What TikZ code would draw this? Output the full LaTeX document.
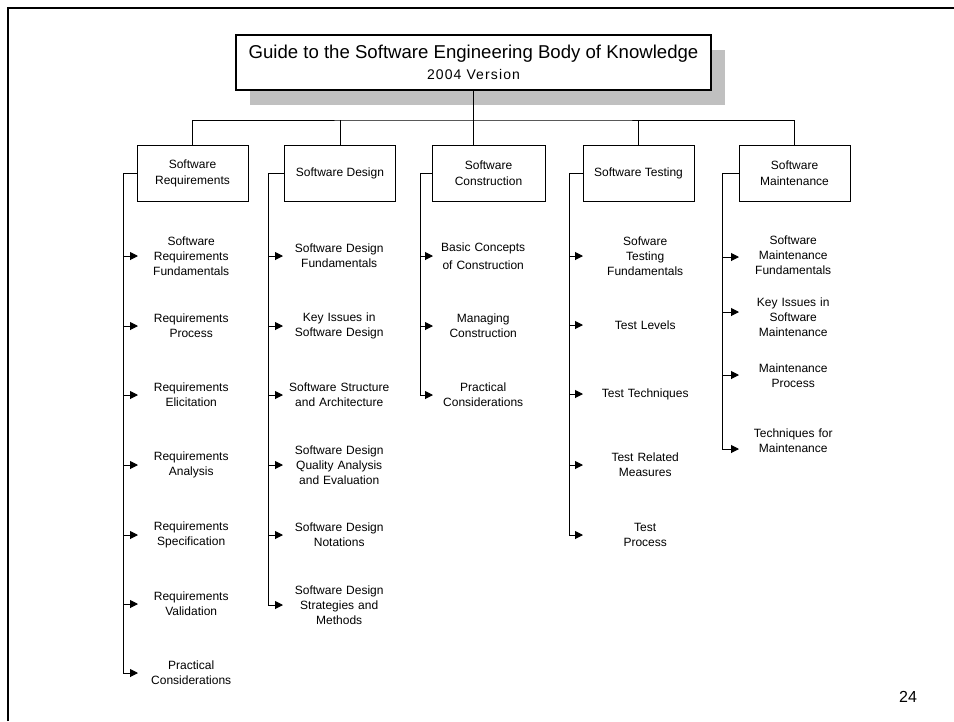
\documentclass[tikz,border=0pt]{standalone}
\usepackage{fontspec}
\setmainfont{Liberation Sans}
\usetikzlibrary{arrows.meta,shadows}
\definecolor{shadowgray}{HTML}{C0C0C0}

\begin{document}
\begin{tikzpicture}[x=1pt, y=-1pt,
  link/.style={line width=1pt},
  tip/.style={link, -{Triangle[length=8pt, width=8pt]}},
  area/.style={draw, line width=1pt, minimum width=111pt, minimum height=56pt, align=center, inner sep=0pt, font=\fontsize{12}{16}\selectfont},
  topic/.style={anchor=west, inner xsep=0pt, inner ysep=0pt, align=center, font=\fontsize{12}{15}\selectfont}]
\useasboundingbox (0,0) rectangle (954,721);
\draw[line width=2.2pt] (7.8,721) -- (7.8,7.8) -- (954,7.8);

\node[draw, line width=1.2pt, fill=white, minimum width=475pt, minimum height=55pt, align=center, inner sep=0pt,
  drop shadow={shadow xshift=14pt, shadow yshift=-15pt, fill=shadowgray, draw=none, opacity=1},
  font=\fontsize{18.6}{21}\selectfont] (title) at (473.5,62.5)
  {Guide to the Software Engineering Body of Knowledge\\{\fontsize{14}{16}\selectfont\addfontfeature{LetterSpace=8}2004 Version}};

\node[area] (req) at (192.5,173) {Software\\Requirements};
\node[area] (des) at (340,173) {Software Design};
\node[area, minimum width=113pt] (con) at (488.5,173) {Software\\Construction};
\node[area] (tst) at (638.5,173) {Software Testing};
\node[area] (mnt) at (794.5,173) {Software\\Maintenance};

\coordinate (bus) at (473.5,120);
\draw[line width=1.5pt] (title.south) -- (bus);
\draw[link] (req.north) |- (bus) -| (mnt.north);
\draw[link] (des.north) -- (des.north |- bus);
\draw[link] (tst.north) -- (tst.north |- bus);
\draw[link] (bus) -- (bus |- con.north);

\coordinate (rqrail) at (123,173);
\foreach \y/\t [count=\i] in {256/{Software\\Requirements\\Fundamentals}, 326/{Requirements\\Process},
  395/{Requirements\\Elicitation}, 465/{Requirements\\Analysis}, 535/{Requirements\\Specification},
  604/{Requirements\\Validation}, 673/{Practical\\Considerations}}
  \node[topic, text width=106pt] (rq\i) at (138,\y) {\t};
\draw[tip] (req.west) -- (rqrail) |- (rq7.west);
\foreach \i in {1,...,6} \draw[tip] (rqrail |- rq\i.west) -- (rq\i.west);

\coordinate (dsrail) at (268,173);
\foreach \y/\t [count=\i] in {256/{Software Design\\Fundamentals}, 326/{Key Issues in\\Software Design},
  395/{Software Structure\\and Architecture}, 465/{Software Design\\Quality Analysis\\and Evaluation},
  535/{Software Design\\Notations}, 605/{Software Design\\Strategies and\\Methods}}
  \node[topic, text width=112pt] (ds\i) at (283,\y) {\t};
\draw[tip] (des.west) -- (dsrail) |- (ds6.west);
\foreach \i in {1,...,5} \draw[tip] (dsrail |- ds\i.west) -- (ds\i.west);

\coordinate (cnrail) at (420,173);
\foreach \y/\t [count=\i] in {256/{Basic Concepts\\[3pt]of Construction}, 326/{Managing\\Construction},
  395/{Practical\\Considerations}}
  \node[topic, text width=100pt] (cn\i) at (433,\y) {\t};
\draw[tip] (con.west) -- (cnrail) |- (cn3.west);
\foreach \i in {1,2} \draw[tip] (cnrail |- cn\i.west) -- (cn\i.west);

\coordinate (tsrail) at (569,173);
\foreach \y/\t [count=\i] in {256/{Sofware\\Testing\\Fundamentals}, 325/{Test Levels},
  394/{Test Techniques}, 465/{Test Related\\Measures}, 535/{Test\\Process}}
  \node[topic, text width=124pt] (ts\i) at (583,\y) {\t};
\draw[tip] (tst.west) -- (tsrail) |- (ts5.west);
\foreach \i in {1,...,4} \draw[tip] (tsrail |- ts\i.west) -- (ts\i.west);

\coordinate (mtrail) at (722,173);
\foreach \y/\ty/\t [count=\i] in {257/255/{Software\\Maintenance\\Fundamentals}, 312/317/{Key Issues in\\Software\\Maintenance},
  375/376/{Maintenance\\Process}, 449/441/{Techniques for\\Maintenance}}
  {\coordinate (mt\i) at (739,\y);
  \node[topic, text width=108pt] (mx\i) at (739,\ty) {\t};}
\draw[tip] (mnt.west) -- (mtrail) |- (mt4);
\foreach \i in {1,...,3} \draw[tip] (mtrail |- mt\i) -- (mt\i);

\node[font=\fontsize{16}{19}\selectfont] (page) at (908,697) {24};
\end{tikzpicture}
\end{document}
